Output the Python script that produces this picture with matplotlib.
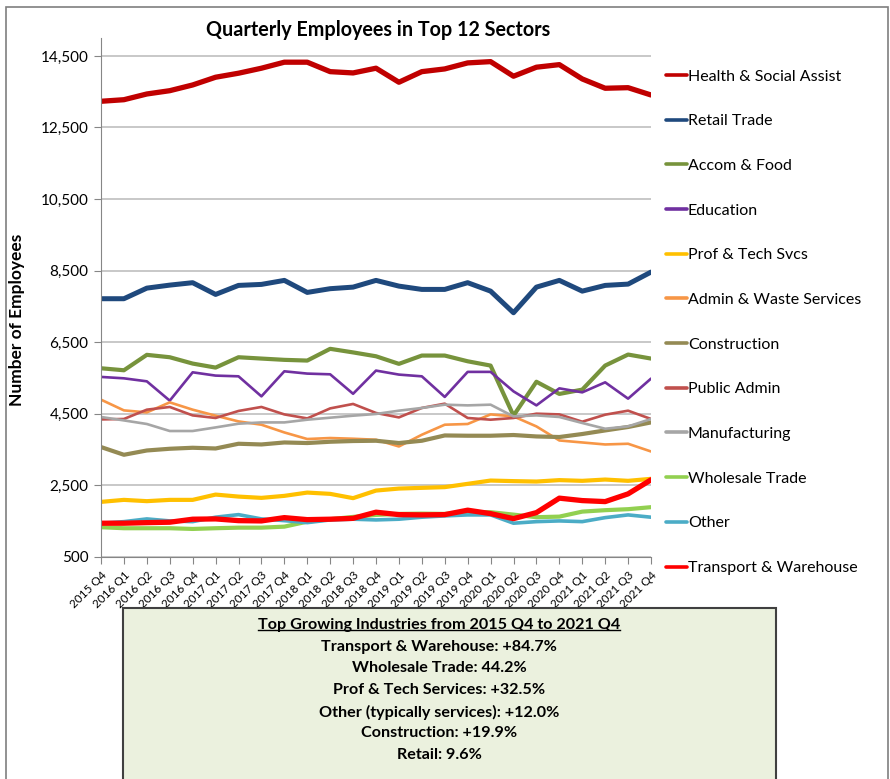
import matplotlib
matplotlib.use("Agg")
import matplotlib.pyplot as plt
from matplotlib.patches import Rectangle
from matplotlib.lines import Line2D
from matplotlib.ticker import FuncFormatter

plt.rcParams['font.family'] = ['Lato', 'DejaVu Sans']

quarters = ["2015 Q4", "2016 Q1", "2016 Q2", "2016 Q3", "2016 Q4", "2017 Q1", "2017 Q2",
            "2017 Q3", "2017 Q4", "2018 Q1", "2018 Q2", "2018 Q3", "2018 Q4", "2019 Q1",
            "2019 Q2", "2019 Q3", "2019 Q4", "2020 Q1", "2020 Q2", "2020 Q3", "2020 Q4",
            "2021 Q1", "2021 Q2", "2021 Q3", "2021 Q4"]

health = [13232, 13276, 13436, 13528, 13688, 13904, 14016, 14156, 14324, 14324, 14060, 14024, 14156,
          13764, 14060, 14136, 14304, 14340, 13932, 14184, 14256, 13856, 13596, 13612, 13408]
retail = [7716, 7716, 8012, 8096, 8164, 7836, 8088, 8116, 8228, 7892, 7996, 8040, 8228,
          8068, 7976, 7976, 8164, 7928, 7324, 8040, 8228, 7928, 8088, 8124, 8460]
accom = [5773, 5717, 6148, 6081, 5904, 5792, 6081, 6044, 6008, 5988, 6316, 6216, 6108,
         5896, 6128, 6128, 5968, 5848, 4450, 5396, 5056, 5176, 5848, 6156, 6044]
education = [5531, 5492, 5408, 4868, 5660, 5568, 5548, 4988, 5688, 5624, 5604, 5060, 5708,
             5596, 5548, 4972, 5672, 5672, 5128, 4736, 5212, 5100, 5380, 4924, 5484]
prof_tech = [2040, 2096, 2060, 2096, 2096, 2244, 2188, 2152, 2208, 2300, 2264, 2144, 2356,
             2412, 2432, 2452, 2544, 2636, 2620, 2608, 2648, 2628, 2664, 2628, 2684]
admin_waste = [4896, 4596, 4540, 4820, 4616, 4448, 4288, 4196, 3980, 3796, 3824, 3804, 3776,
               3588, 3916, 4196, 4216, 4484, 4428, 4148, 3756, 3700, 3644, 3664, 3448]
construction = [3572, 3356, 3476, 3524, 3552, 3532, 3664, 3644, 3700, 3684, 3720, 3740, 3748,
                3684, 3748, 3896, 3888, 3888, 3908, 3868, 3852, 3936, 4036, 4132, 4260]
public_admin = [4344, 4356, 4616, 4692, 4456, 4384, 4580, 4692, 4484, 4372, 4652, 4776, 4524,
                4400, 4664, 4784, 4384, 4336, 4384, 4504, 4484, 4280, 4476, 4588, 4356]
manufacturing = [4412, 4316, 4216, 4020, 4020, 4120, 4224, 4260, 4260, 4336, 4392, 4448, 4496,
                 4588, 4664, 4756, 4736, 4756, 4428, 4456, 4412, 4244, 4084, 4148, 4356]
wholesale = [1332, 1304, 1304, 1304, 1284, 1304, 1320, 1320, 1348, 1488, 1556, 1620, 1676,
             1704, 1712, 1704, 1752, 1752, 1684, 1612, 1628, 1768, 1808, 1836, 1892]
other = [1444, 1488, 1564, 1508, 1488, 1612, 1684, 1564, 1516, 1460, 1536, 1556, 1536,
         1556, 1612, 1648, 1676, 1676, 1444, 1488, 1508, 1488, 1600, 1676, 1612]
transport = [1444, 1444, 1460, 1472, 1556, 1564, 1516, 1508, 1600, 1544, 1556, 1580, 1752,
             1684, 1676, 1684, 1808, 1712, 1572, 1740, 2144, 2076, 2048, 2264, 2656]

series = [
    ("Health & Social Assist", health, "#C00000", 3.8),
    ("Retail Trade", retail, "#1F497D", 3.6),
    ("Accom & Food", accom, "#77933C", 3.0),
    ("Education", education, "#7030A0", 1.9),
    ("Prof & Tech Svcs", prof_tech, "#FFC000", 3.0),
    ("Admin & Waste Services", admin_waste, "#F79646", 1.9),
    ("Construction", construction, "#948A54", 3.0),
    ("Public Admin", public_admin, "#C0504D", 1.9),
    ("Manufacturing", manufacturing, "#A6A6A6", 1.9),
    ("Wholesale Trade", wholesale, "#92D050", 3.0),
    ("Other", other, "#4BACC6", 2.6),
    ("Transport & Warehouse", transport, "#FF0000", 3.8),
]

box_lines = ["Top Growing Industries from 2015 Q4 to 2021 Q4",
             "Transport & Warehouse: +84.7%",
             "Wholesale Trade: 44.2%",
             "Prof & Tech Services: +32.5%",
             "Other (typically services): +12.0%",
             "Construction: +19.9%",
             "Retail: 9.6%"]

W, H = 890, 779
fig = plt.figure(figsize=(W / 100, H / 100), dpi=100)
fig.patch.set_facecolor("white")

def fx(px):
    return px / W

def fy(py):
    return 1 - py / H

ax = fig.add_axes([fx(101), fy(557), fx(651) - fx(101), fy(38) - fy(557)])

x = list(range(len(quarters)))
for name, vals, col, lw in series:
    ax.plot(x, vals, color=col, lw=lw, label=name, solid_capstyle="round", solid_joinstyle="round")

ax.set_xlim(0, len(quarters) - 1)
ax.set_ylim(500, 15000)
ax.set_yticks(range(500, 15000, 2000))
ax.yaxis.set_major_formatter(FuncFormatter(lambda v, p: f"{int(v):,}"))
ax.set_xticks(x)
ax.set_xticklabels(quarters, rotation=45, ha="right", va="top", rotation_mode="anchor", fontsize=8.5)
ax.tick_params(axis="y", labelsize=11, length=5, color="#868686", pad=4)
ax.tick_params(axis="x", length=5, color="#868686", pad=4)
ax.grid(axis="y", color="#BFBFBF", lw=1.2)
ax.set_axisbelow(True)
for s in ["top", "right"]:
    ax.spines[s].set_visible(False)
ax.spines["left"].set_color("#868686")
ax.spines["bottom"].set_color("#868686")

fig.text(fx(378), fy(30), "Quarterly Employees in Top 12 Sectors", ha="center", va="center",
         fontsize=14.2, fontweight="bold")
fig.text(fx(17), fy(320), "Number of Employees", ha="center", va="center", rotation=90,
         fontsize=12.5, fontweight="bold")

leg = ax.legend(loc="upper left", bbox_to_anchor=(fx(660), fy(63)), bbox_transform=fig.transFigure,
                frameon=False, fontsize=11.5, labelspacing=1.91, handlelength=1.3,
                handletextpad=0.05, borderaxespad=0)
for h in leg.get_lines():
    h.set_linewidth(2.6)

# outer chart border
fig.add_artist(Rectangle((fx(6), -0.02), fx(888) - fx(6), fy(7) + 0.02, transform=fig.transFigure,
                         fill=False, edgecolor="#7F7F7F", lw=1.2))

# summary box
fig.add_artist(Rectangle((fx(123), -0.02), fx(776) - fx(123), fy(608) + 0.02, transform=fig.transFigure,
                         facecolor="#EBF1DE", edgecolor="#404040", lw=1.5))
line_y = [625, 647, 668, 690, 712, 733, 755]
texts = []
for txt, py in zip(box_lines, line_y):
    texts.append(fig.text(fx(439), fy(py), txt, ha="center", va="center", fontsize=11.6, fontweight="bold"))

fig.canvas.draw()
bb = texts[0].get_window_extent().transformed(fig.transFigure.inverted())
fig.add_artist(Line2D([bb.x0, bb.x1], [bb.y0 + 0.003, bb.y0 + 0.003], transform=fig.transFigure,
                      color="black", lw=1))

fig.savefig("out.png", dpi=100)
